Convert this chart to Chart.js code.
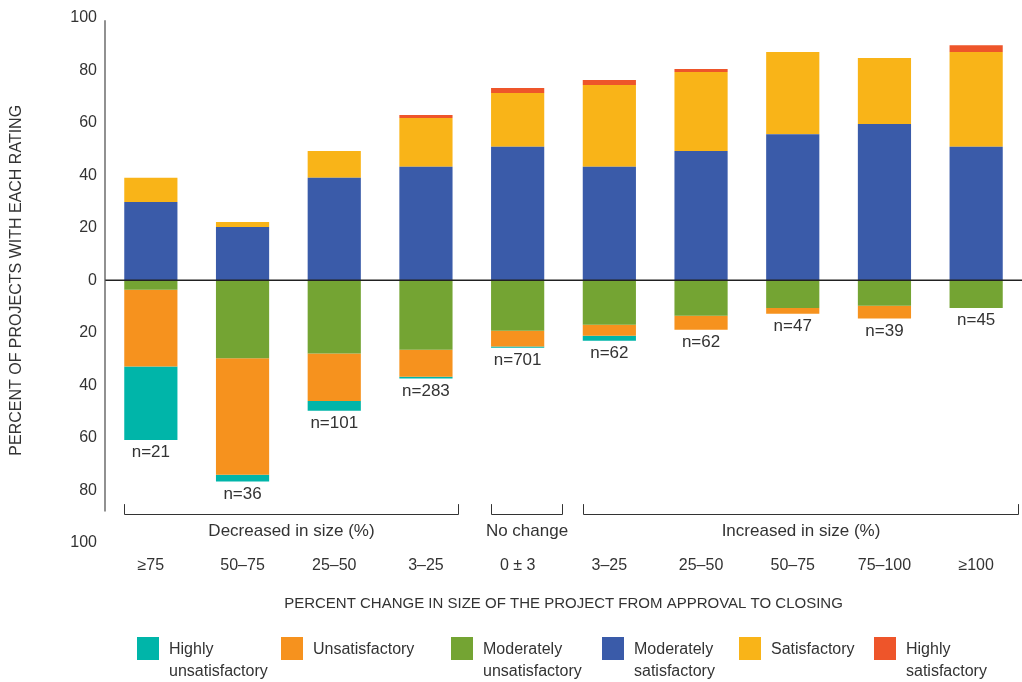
<!DOCTYPE html>
<html><head><meta charset="utf-8">
<script src="https://cdn.jsdelivr.net/npm/chart.js@4.4.1/dist/chart.umd.min.js"></script>
<style>html,body{margin:0;padding:0;background:#fff;overflow:hidden}#wrap{width:1022px;height:682px;position:relative}</style>
</head><body><div id="wrap"><canvas id="c" width="1022" height="682"></canvas></div>
<script>
// ---- data ----
const categories = ['≥75', '50–75', '25–50', '3–25', '0 ± 3', '3–25', '25–50', '50–75', '75–100', '≥100'];
const sampleSizes = [21, 36, 101, 283, 701, 62, 62, 47, 39, 45];
const highlyUnsatisfactory   = [-28.0, -2.6, -3.8, -0.7, -0.5, -1.9, 0, 0, 0, 0];
const unsatisfactory         = [-29.2, -44.3, -18.0, -10.3, -6.0, -4.2, -5.3, -2.2, -4.8, 0];
const moderatelyUnsatisfactory = [-3.6, -29.7, -27.9, -26.4, -19.2, -16.9, -13.5, -10.5, -9.7, -10.5];
const moderatelySatisfactory = [29.8, 20.3, 39.0, 43.2, 50.8, 43.2, 49.2, 55.6, 59.5, 50.8];
const satisfactory           = [9.2, 1.9, 10.2, 18.6, 20.5, 31.1, 30.1, 31.3, 25.1, 36.1];
const highlySatisfactory     = [0, 0, 0, 1.1, 1.9, 1.9, 1.1, 0, 0, 2.6];
const groupLabels = ['Decreased in size (%)', 'No change', 'Increased in size (%)'];
const groupSpans = [[-0.29, 3.35], [3.71, 4.48], [4.71, 9.46]];
const legendLabels = [['Highly', 'unsatisfactory'], ['Unsatisfactory'], ['Moderately', 'unsatisfactory'], ['Moderately', 'satisfactory'], ['Satisfactory'], ['Highly', 'satisfactory']];
const yAxisTitle = 'PERCENT OF PROJECTS WITH EACH RATING';
const xAxisTitle = 'PERCENT CHANGE IN SIZE OF THE PROJECT FROM APPROVAL TO CLOSING';

// ---- style ----
const COL = {
  hu: '#00B5A9', u: '#F6921E', mu: '#74A433', ms: '#3A5BA9', s: '#F9B418', hs: '#EE552A'
};
const legendColors = [COL.hu, COL.u, COL.mu, COL.ms, COL.s, COL.hs];
const TXT = '#333333';
const FONT = "'Liberation Sans', Arial, sans-serif";

const ds = (label, data, color) => ({ label, data, backgroundColor: color, borderWidth: 0, barPercentage: 0.58, categoryPercentage: 1 });

const overlay = {
  id: 'overlay',
  afterDatasetsDraw(chart) {
    const { ctx, chartArea: a, scales: { x, y } } = chart;
    ctx.save();
    // zero line
    const y0 = y.getPixelForValue(0);
    ctx.strokeStyle = '#222';
    ctx.lineWidth = 1.5;
    ctx.beginPath(); ctx.moveTo(a.left, y0); ctx.lineTo(a.right, y0); ctx.stroke();
    // y axis line
    ctx.strokeStyle = '#555';
    ctx.lineWidth = 1.3;
    ctx.beginPath(); ctx.moveTo(a.left, y.getPixelForValue(99)); ctx.lineTo(a.left, y.getPixelForValue(-88)); ctx.stroke();
    // n labels
    ctx.fillStyle = TXT;
    ctx.font = '17px ' + FONT;
    ctx.textAlign = 'center';
    ctx.textBaseline = 'top';
    categories.forEach((c, i) => {
      const neg = highlyUnsatisfactory[i] + unsatisfactory[i] + moderatelyUnsatisfactory[i];
      ctx.fillText('n=' + sampleSizes[i], x.getPixelForValue(i), y.getPixelForValue(neg) + 4);
    });
    // brackets + group labels
    ctx.strokeStyle = '#333';
    ctx.lineWidth = 1;
    const by = Math.round(y.getPixelForValue(-89)) + 0.5;
    const bt = y.getPixelForValue(-85.2);
    groupSpans.forEach((sp, i) => {
      const x1 = Math.round(x.getPixelForValue(sp[0])) + 0.5, x2 = Math.round(x.getPixelForValue(sp[1])) + 0.5;
      ctx.beginPath();
      ctx.moveTo(x1, bt); ctx.lineTo(x1, by); ctx.lineTo(x2, by); ctx.lineTo(x2, bt);
      ctx.stroke();
      ctx.font = '17px ' + FONT;
      ctx.textBaseline = 'middle';
      ctx.fillText(groupLabels[i], (x1 + x2) / 2, y.getPixelForValue(-95.5));
    });
    // legend
    const lx = [137, 281, 451, 602, 739, 874];
    ctx.textAlign = 'left';
    ctx.font = '16px ' + FONT;
    legendLabels.forEach((lab, i) => {
      ctx.fillStyle = legendColors[i];
      ctx.fillRect(lx[i], 637, 22, 23);
      ctx.fillStyle = TXT;
      lab.forEach((line, j) => ctx.fillText(line, lx[i] + 32, 650 + j * 22));
    });
    ctx.restore();
  }
};

new Chart(document.getElementById('c'), {
  type: 'bar',
  data: {
    labels: categories,
    datasets: [
      ds('Moderately unsatisfactory', moderatelyUnsatisfactory, COL.mu),
      ds('Unsatisfactory', unsatisfactory, COL.u),
      ds('Highly unsatisfactory', highlyUnsatisfactory, COL.hu),
      ds('Moderately satisfactory', moderatelySatisfactory, COL.ms),
      ds('Satisfactory', satisfactory, COL.s),
      ds('Highly satisfactory', highlySatisfactory, COL.hs)
    ]
  },
  options: {
    responsive: false,
    devicePixelRatio: 1,
    animation: false,
    layout: { padding: { top: 17, left: 0, right: 0, bottom: 0 } },
    plugins: { legend: { display: false }, tooltip: { enabled: false } },
    scales: {
      x: {
        stacked: true,
        grid: { display: false, drawTicks: false },
        border: { display: false },
        ticks: { color: TXT, font: { family: FONT, size: 16 }, padding: 13, maxRotation: 0, autoSkip: false },
        title: { display: true, text: xAxisTitle, color: TXT, font: { family: FONT, size: 15 }, padding: { top: 0, bottom: 69 } },
        afterFit: s => { s.height = 139; }
      },
      y: {
        stacked: true,
        min: -100, max: 100,
        grid: { display: false, drawTicks: false },
        border: { display: false },
        ticks: { stepSize: 20, color: TXT, font: { family: FONT, size: 16 }, padding: 8, callback: v => Math.abs(v) },
        title: { display: true, text: yAxisTitle, color: TXT, font: { family: FONT, size: 16 }, padding: { top: 7, bottom: 0 } },
        afterFit: s => { s.width = 105; }
      }
    }
  },
  plugins: [overlay]
});
</script>
</body></html>
